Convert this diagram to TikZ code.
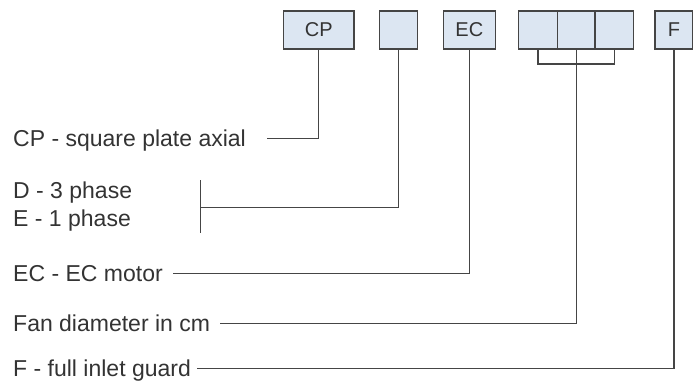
\documentclass[tikz,border=0pt]{standalone}
\usepackage{fontspec}
\setmainfont{Liberation Sans}
\definecolor{ln}{HTML}{454545}
\definecolor{bx}{HTML}{DCE6F2}
\begin{document}
\begin{tikzpicture}[x=1pt,y=-1pt,
  conn/.style={draw=ln,line width=1.4pt},
  box/.style={draw=ln,fill=bx,line width=1.4pt,minimum height=38pt,inner sep=0pt,
    font=\fontsize{20}{24}\selectfont,text=black!80},
  lbl/.style={anchor=base west,inner sep=0pt,font=\fontsize{23}{27}\selectfont,text=black!80}]
\useasboundingbox (0,0) rectangle (700,381);
% boxes
\node[box,minimum width=70.7pt] (cp) at (318.7,30) {CP};
\node[box,minimum width=38.4pt] (b2) at (398.5,30) {};
\node[box,minimum width=52pt] (ec) at (469.3,30) {EC};
\node[box,minimum width=39pt] (d1) at (537.8,30) {};
\node[box,minimum width=37.7pt] (d2) at (576.2,30) {};
\node[box,minimum width=38.3pt] (d3) at (614.2,30) {};
\node[box,minimum width=37.7pt] (f) at (673.9,30) {F};
% labels
\node[lbl] (tcp) at (13,146.5) {CP - square plate axial};
\node[lbl] (td) at (13,198) {D - 3 phase};
\node[lbl] (te) at (13,226) {E - 1 phase};
\node[lbl] (tec) at (13,281) {EC - EC motor};
\node[lbl] (tfan) at (13,331.5) {Fan diameter in cm};
\node[lbl] (tf) at (13,376) {F - full inlet guard};
% connector ends
\coordinate (cpend) at (266.7,138.3);
\coordinate (detop) at (200.7,180);
\coordinate (debot) at (200.7,233.3);
\coordinate (demid) at (200.7,207.3);
\coordinate (ecend) at (173.3,273.3);
\coordinate (fanend) at (220,323.3);
\coordinate (fend) at (196.7,368.3);
% connectors
\draw[conn] (cp.south) |- (cpend);
\draw[conn] (detop) -- (debot);
\draw[conn] (b2.south) |- (demid);
\draw[conn] (ec.south) |- (ecend);
\draw[conn] (d1.south) -- ++(0,14.3) -| (d3.south);
\draw[conn] (d2.south) |- (fanend);
\draw[conn] (f.south) |- (fend);
\end{tikzpicture}
\end{document}
